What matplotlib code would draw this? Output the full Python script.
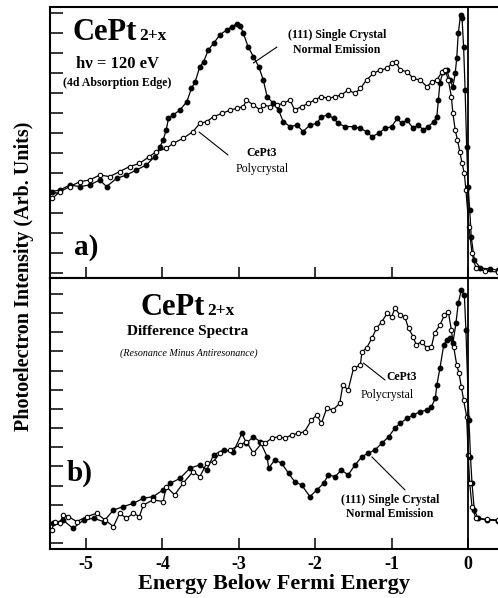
import matplotlib
matplotlib.use("Agg")
import matplotlib.pyplot as plt

plt.rcParams['font.family'] = ['Liberation Serif', 'DejaVu Serif']

# ---- panel a : hv = 120 eV spectra ----
a_single_x = [-5.45, -5.34, -5.21, -5.08, -4.95, -4.82, -4.73, -4.60, -4.47, -4.34,
              -4.21, -4.10, -4.03, -3.99, -3.95, -3.92, -3.86, -3.77, -3.68, -3.62,
              -3.57, -3.51, -3.46, -3.40, -3.33, -3.25, -3.16, -3.09, -3.03, -2.98,
              -2.94, -2.88, -2.81, -2.74, -2.68, -2.63, -2.55, -2.48, -2.42, -2.33,
              -2.24, -2.16, -2.07, -1.98, -1.92, -1.83, -1.76, -1.70, -1.61, -1.50,
              -1.41, -1.33, -1.26, -1.17, -1.09, -1.00, -0.93, -0.87, -0.80, -0.72,
              -0.65, -0.59, -0.52, -0.45, -0.41, -0.39, -0.37, -0.33, -0.28, -0.24,
              -0.20, -0.17, -0.15, -0.13, -0.10, -0.08, -0.06, -0.04, -0.02, 0.0,
              0.02, 0.04, 0.08, 0.16, 0.29, 0.39]
a_single_y = [4.07, 4.15, 4.40, 4.32, 4.40, 4.65, 4.32, 4.73, 4.90, 5.15,
              5.40, 5.82, 6.32, 6.65, 7.15, 7.73, 7.90, 8.15, 8.57, 9.23,
              9.57, 10.32, 10.57, 11.15, 11.48, 11.90, 12.15, 12.32, 12.45, 12.35,
              11.98, 11.32, 10.82, 10.32, 9.65, 8.82, 8.48, 8.15, 7.57, 7.32,
              7.40, 7.07, 7.40, 7.48, 7.82, 7.90, 7.73, 7.48, 7.32, 7.32,
              7.23, 7.07, 6.82, 6.98, 7.23, 7.32, 7.73, 7.48, 7.65, 7.23,
              7.40, 7.15, 7.32, 7.57, 7.82, 8.65, 9.48, 10.07, 10.15, 9.65,
              9.32, 9.98, 10.73, 11.98, 12.90, 12.73, 11.32, 9.15, 6.32, 4.32,
              3.15, 1.80, 0.65, 0.25, 0.20, 0.15]

a_poly_x = [-5.44, -5.34, -5.21, -5.08, -4.95, -4.82, -4.69, -4.56, -4.43, -4.30,
            -4.17, -4.08, -3.95, -3.86, -3.73, -3.60, -3.51, -3.42, -3.33, -3.22,
            -3.11, -3.03, -2.94, -2.90, -2.81, -2.72, -2.68, -2.59, -2.50, -2.42,
            -2.33, -2.27, -2.18, -2.09, -2.01, -1.92, -1.83, -1.74, -1.66, -1.57,
            -1.48, -1.41, -1.33, -1.24, -1.15, -1.06, -1.00, -0.95, -0.89, -0.80,
            -0.72, -0.63, -0.54, -0.47, -0.41, -0.34, -0.30, -0.26, -0.22, -0.20,
            -0.17, -0.14, -0.11, -0.08, -0.05, -0.03, 0.01, 0.05, 0.10, 0.22, 0.39]
a_poly_y = [3.73, 4.07, 4.32, 4.57, 4.65, 4.90, 4.82, 5.07, 5.32, 5.48,
            5.82, 6.07, 6.23, 6.48, 6.73, 7.07, 7.48, 7.57, 7.82, 7.98,
            8.15, 8.23, 8.32, 8.65, 8.40, 8.15, 8.40, 8.32, 8.40, 8.48,
            8.65, 8.15, 8.32, 8.48, 8.65, 8.82, 8.73, 8.82, 8.90, 9.15,
            8.98, 9.23, 9.65, 9.98, 10.15, 10.23, 10.48, 10.57, 10.15, 10.07,
            9.73, 9.65, 9.32, 9.57, 9.65, 10.07, 10.15, 9.65, 8.82, 7.98,
            7.15, 6.65, 6.07, 5.48, 4.98, 4.15, 2.30, 1.00, 0.25, 0.10, 0.05]

# ---- panel b : difference spectra ----
b_single_x = [-5.43, -5.30, -5.17, -5.03, -4.90, -4.77, -4.64, -4.51, -4.38, -4.25,
              -4.12, -3.99, -3.90, -3.77, -3.64, -3.51, -3.42, -3.33, -3.20, -3.07,
              -2.96, -2.90, -2.81, -2.72, -2.63, -2.61, -2.53, -2.44, -2.35, -2.27,
              -2.18, -2.07, -1.98, -1.89, -1.83, -1.74, -1.66, -1.57, -1.48, -1.39,
              -1.31, -1.22, -1.13, -1.04, -0.96, -0.89, -0.80, -0.72, -0.63, -0.54,
              -0.48, -0.43, -0.41, -0.37, -0.32, -0.28, -0.24, -0.20, -0.16, -0.13,
              -0.09, -0.05, -0.03, 0.01, 0.03, 0.05, 0.08, 0.13, 0.24, 0.39]
b_single_y = [1.04, 1.21, 0.78, 1.21, 1.30, 1.13, 1.73, 1.91, 2.08, 2.34,
              2.43, 2.78, 3.12, 3.38, 3.91, 4.08, 3.82, 4.60, 4.86, 4.77,
              5.73, 5.21, 5.55, 5.29, 4.51, 3.91, 4.34, 4.17, 3.65, 3.21,
              3.04, 2.43, 2.78, 3.12, 3.56, 3.47, 3.82, 3.56, 4.08, 4.51,
              4.69, 4.86, 5.21, 5.55, 5.99, 6.25, 6.51, 6.68, 6.85, 6.94,
              7.12, 7.55, 8.24, 9.11, 10.33, 10.59, 10.68, 10.42, 11.46, 12.50,
              13.19, 12.93, 11.11, 6.42, 4.51, 3.12, 1.73, 1.30, 1.21, 1.18]

b_poly_x = [-5.45, -5.41, -5.34, -5.30, -5.23, -5.12, -4.99, -4.86, -4.75, -4.64,
            -4.56, -4.47, -4.38, -4.30, -4.25, -4.12, -3.99, -3.95, -3.84, -3.73,
            -3.60, -3.51, -3.42, -3.33, -3.25, -3.12, -2.98, -2.90, -2.81, -2.70,
            -2.66, -2.57, -2.48, -2.40, -2.31, -2.22, -2.14, -2.05, -1.98, -1.92,
            -1.85, -1.77, -1.68, -1.64, -1.57, -1.50, -1.41, -1.39, -1.33, -1.26,
            -1.20, -1.13, -1.06, -1.00, -0.96, -0.89, -0.83, -0.78, -0.72, -0.68,
            -0.61, -0.54, -0.48, -0.44, -0.37, -0.31, -0.26, -0.22, -0.19, -0.15,
            -0.12, -0.09, -0.06, -0.02, 0.00, 0.02, 0.05, 0.10, 0.24, 0.39]
b_poly_y = [0.69, 1.13, 1.04, 1.47, 1.39, 1.13, 1.39, 1.56, 1.21, 0.87,
            1.56, 1.30, 1.56, 1.39, 1.99, 2.26, 2.17, 2.95, 2.52, 3.12,
            3.73, 3.47, 4.17, 4.25, 4.69, 4.86, 5.12, 5.29, 4.69, 5.21,
            5.21, 5.47, 5.55, 5.47, 5.64, 5.73, 5.81, 6.42, 6.68, 6.25,
            7.03, 6.94, 7.29, 8.24, 7.99, 9.11, 9.29, 9.98, 10.16, 10.68,
            11.20, 11.54, 11.98, 11.80, 12.24, 11.89, 11.80, 11.20, 10.76, 10.33,
            10.50, 10.16, 10.24, 10.94, 11.37, 11.89, 12.06, 11.11, 10.24, 9.29,
            8.85, 8.16, 7.47, 6.59, 4.60, 3.12, 1.91, 1.30, 1.25, 1.21]

xticks = [-5, -4, -3, -2, -1, 0]

W, H = 498, 598
fig = plt.figure(figsize=(W / 100, H / 100), dpi=100)
ax_a = fig.add_axes([50 / W, 1 - 278 / H, 1 - 50 / W, 271 / H])
ax_b = fig.add_axes([50 / W, 1 - 549 / H, 1 - 50 / W, 271 / H], sharex=ax_a)


def fpos(px, py):
    # pixel position of the reference -> figure fraction
    return px / W, 1 - py / H


def draw_panel(ax, sx, sy, px_, py_):
    ax.plot(sx, sy, '-o', color='black', lw=0.9, ms=3.2, mfc='black',
            mec='black', zorder=3)
    ax.plot(px_, py_, '-o', color='black', lw=0.9, ms=3.2, mfc='white',
            mec='black', mew=0.8, zorder=4)
    ax.axvline(0, color='black', lw=1.3, zorder=5)
    ax.set_xlim(-5.47, 0.39)
    ax.set_yticks(range(0, 14))
    ax.set_yticklabels([])
    ax.tick_params(axis='y', direction='in', length=9, width=1.1, left=True)
    ax.tick_params(axis='x', direction='in', length=8, width=1.1, top=False)
    ax.spines['right'].set_visible(False)
    for s in ['left', 'top', 'bottom']:
        ax.spines[s].set_linewidth(1.5)


draw_panel(ax_a, a_single_x, a_single_y, a_poly_x, a_poly_y)
draw_panel(ax_b, b_single_x, b_single_y, b_poly_x, b_poly_y)
ax_a.set_ylim(-0.25, 13.3)
ax_b.set_ylim(-0.30, 13.82)

ax_b.set_xticks(xticks)
ax_b.set_xticklabels([str(t) for t in xticks], fontsize=13, fontweight='bold')
ax_b.tick_params(axis='x', pad=5)
plt.setp(ax_a.get_xticklabels(), visible=False)
ax_b.set_xlabel('Energy Below Fermi Energy', fontsize=16, fontweight='bold',
                labelpad=1)

fig.text(*fpos(24, 276), 'Photoelectron Intensity (Arb. Units)', rotation=90,
         ha='center', va='center', fontsize=14.5, fontweight='bold')

# ---- panel a annotations ----
fig.text(*fpos(72, 40), 'CePt', fontsize=22, fontweight='bold', va='baseline')
fig.text(*fpos(139, 40), '2+x', fontsize=12.5, fontweight='bold', va='baseline')
fig.text(*fpos(117, 64), 'h\u03bd = 120 eV', fontsize=12, fontweight='bold',
         ha='center', va='center')
fig.text(*fpos(117, 83), '(4d Absorption Edge)', fontsize=8.5, fontweight='bold',
         ha='center', va='center')
fig.text(*fpos(337, 35), '(111) Single Crystal', fontsize=8.5, fontweight='bold',
         ha='center', va='center')
fig.text(*fpos(337, 50), 'Normal Emission', fontsize=8.5, fontweight='bold',
         ha='center', va='center')
fig.text(*fpos(262, 153), 'CePt3', fontsize=8.5, fontweight='bold',
         ha='center', va='center')
fig.text(*fpos(262, 169), 'Polycrystal', fontsize=8.5, ha='center', va='center')
fig.text(*fpos(74, 247), 'a)', fontsize=21, fontweight='bold', va='center')
ax_a.annotate('', xy=(-2.81, 10.5), xytext=fpos(277, 47),
              textcoords='figure fraction',
              arrowprops=dict(arrowstyle='-', lw=0.8, color='black',
                              shrinkA=0, shrinkB=0))
ax_a.annotate('', xy=(-3.52, 7.05), xytext=fpos(228, 155),
              textcoords='figure fraction',
              arrowprops=dict(arrowstyle='-', lw=0.8, color='black',
                              shrinkA=0, shrinkB=0))

# ---- panel b annotations ----
fig.text(*fpos(140, 315), 'CePt', fontsize=22, fontweight='bold', va='baseline')
fig.text(*fpos(207, 315), '2+x', fontsize=12.5, fontweight='bold', va='baseline')
fig.text(*fpos(188, 332), 'Difference Spectra', fontsize=11, fontweight='bold',
         ha='center', va='center')
fig.text(*fpos(189, 353), '(Resonance Minus Antiresonance)', fontsize=7.2,
         style='italic', ha='center', va='center')
fig.text(*fpos(402, 377), 'CePt3', fontsize=8.5, fontweight='bold',
         ha='center', va='center')
fig.text(*fpos(387, 395), 'Polycrystal', fontsize=8.5, ha='center', va='center')
fig.text(*fpos(390, 500), '(111) Single Crystal', fontsize=8.5, fontweight='bold',
         ha='center', va='center')
fig.text(*fpos(390, 514), 'Normal Emission', fontsize=8.5, fontweight='bold',
         ha='center', va='center')
fig.text(*fpos(67, 473), 'b)', fontsize=21, fontweight='bold', va='center')
ax_b.annotate('', xy=(-1.37, 9.39), xytext=fpos(385, 380),
              textcoords='figure fraction',
              arrowprops=dict(arrowstyle='-', lw=0.8, color='black',
                              shrinkA=0, shrinkB=0))
ax_b.annotate('', xy=(-1.26, 4.5), xytext=fpos(405, 490),
              textcoords='figure fraction',
              arrowprops=dict(arrowstyle='-', lw=0.8, color='black',
                              shrinkA=0, shrinkB=0))

fig.savefig('out.png', dpi=100)
